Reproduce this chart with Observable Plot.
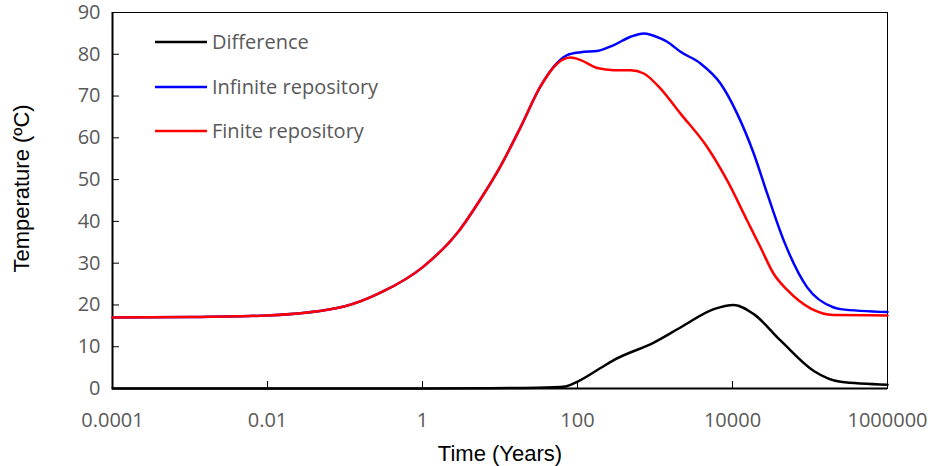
<!DOCTYPE html>
<html>
<head>
<meta charset="utf-8">
<script src="https://cdn.jsdelivr.net/npm/d3@7"></script>
<script src="https://cdn.jsdelivr.net/npm/@observablehq/plot@0.6"></script>
<style>
  html, body { margin: 0; padding: 0; background: #fff; }
  #wrap { position: relative; width: 932px; height: 466px; }
  #wrap svg { overflow: visible; }
  #legend { position: absolute; left: 155px; top: 20px; font-family: "Open Sans", sans-serif; font-size: 20px; color: #595959; }
  #legend .row { display: flex; align-items: center; height: 44.5px; }
  #legend .row span { margin-left: 5px; line-height: 1; }
  g[aria-label="x-axis label"] text, g[aria-label="y-axis label"] text {
    font-family: "Liberation Sans", Arial, sans-serif; font-size: 22px; fill: #000;
  }
  g[aria-label="y-axis label"] { translate: 1px -12px; }
</style>
</head>
<body>
<div id="wrap"></div>
<script>
// Time in years (log axis)
const diffTime  = [0.0001, 0.01, 1, 5.6, 30, 70, 99, 198, 294, 966, 2133, 5740, 10400, 18840, 41600, 112000, 247700, 1000000];
const diffValue = [0.0, 0.0, 0.0, 0.05, 0.2, 0.5, 1.6, 4.9, 6.8, 11.0, 14.6, 19.0, 20.0, 17.8, 11.5, 4.2, 1.6, 0.9];

const infTime  = [0.0001, 0.001, 0.01, 0.1, 0.3, 1, 3, 5.6, 10, 18.5, 33, 55, 73.6, 110, 180, 294, 483, 716, 1178, 1435, 2133, 3864, 7000, 11480, 18840, 28000, 45900, 92000, 202800, 247700, 1000000];
const infValue = [17.0, 17.1, 17.5, 19.7, 23.1, 29.0, 37.9, 45.3, 53.0, 62.6, 72.2, 78.0, 79.8, 80.5, 80.8, 82.2, 84.2, 85.0, 83.8, 83.0, 80.6, 77.8, 73.0, 65.8, 56.2, 46.7, 35.4, 24.2, 19.4, 19.0, 18.3];

const finTime  = [0.0001, 0.001, 0.01, 0.1, 0.3, 1, 3, 5.6, 10, 18.5, 33, 55, 81, 110, 180, 294, 483, 716, 1178, 2133, 4710, 8530, 15450, 22960, 34120, 50800, 101400, 202800, 1000000];
const finValue = [17.0, 17.1, 17.5, 19.7, 23.1, 29.0, 37.9, 45.3, 53.0, 62.6, 72.2, 77.8, 79.2, 78.6, 76.7, 76.2, 76.2, 75.4, 71.8, 65.8, 57.8, 49.8, 40.2, 33.8, 27.4, 23.6, 19.2, 17.6, 17.5];

const seriesNames  = ["Difference", "Infinite repository", "Finite repository"];
const seriesColors = ["#000000", "#0000ff", "#ff0000"];

const xTicks = [0.0001, 0.01, 1, 100, 10000, 1000000];
const yTicks = [0, 10, 20, 30, 40, 50, 60, 70, 80, 90];

const toRows = (t, v) => t.map((d, i) => ({t: d, v: v[i]}));
const diffRows = toRows(diffTime, diffValue);
const infRows = toRows(infTime, infValue);
const finRows = toRows(finTime, finValue);

const chart = Plot.plot({
  width: 932,
  height: 466,
  marginLeft: 112,
  marginRight: 45,
  marginTop: 12,
  marginBottom: 78,
  style: {fontFamily: "'Open Sans', sans-serif", fontSize: "20px", background: "#fff", color: "#595959"},
  x: {type: "log", domain: [0.0001, 1000000]},
  y: {domain: [0, 90]},
  marks: [
    Plot.frame({stroke: "#000", strokeWidth: 1}),
    Plot.axisY(yTicks, {tickSize: -7, tickPadding: 19, stroke: "#000", fill: "#595959", label: "Temperature (ºC)", labelAnchor: "center", labelOffset: 100, labelArrow: "none"}),
    Plot.axisX(xTicks, {tickSize: -7, tickPadding: 31, stroke: "#000", fill: "#595959", tickFormat: d => String(d), label: "Time (Years)", labelAnchor: "center", labelOffset: 72, labelArrow: "none"}),
    Plot.ruleY([0], {stroke: "#000", strokeWidth: 2}),
    Plot.ruleX([0.0001], {stroke: "#000", strokeWidth: 2}),
    Plot.line(diffRows, {x: "t", y: "v", stroke: seriesColors[0], strokeWidth: 2.5, curve: "monotone-x"}),
    Plot.line(infRows, {x: "t", y: "v", stroke: seriesColors[1], strokeWidth: 2.5, curve: "monotone-x"}),
    Plot.line(finRows, {x: "t", y: "v", stroke: seriesColors[2], strokeWidth: 2.5, curve: "monotone-x"})
  ]
});

const wrap = document.getElementById("wrap");
wrap.appendChild(chart);

const legend = document.createElement("div");
legend.id = "legend";
seriesNames.forEach((name, i) => {
  const row = document.createElement("div");
  row.className = "row";
  row.innerHTML = `<svg width="52" height="4"><line x1="0" x2="52" y1="2" y2="2" stroke="${seriesColors[i]}" stroke-width="2.5"/></svg><span>${name}</span>`;
  legend.appendChild(row);
});
wrap.appendChild(legend);
</script>
</body>
</html>
